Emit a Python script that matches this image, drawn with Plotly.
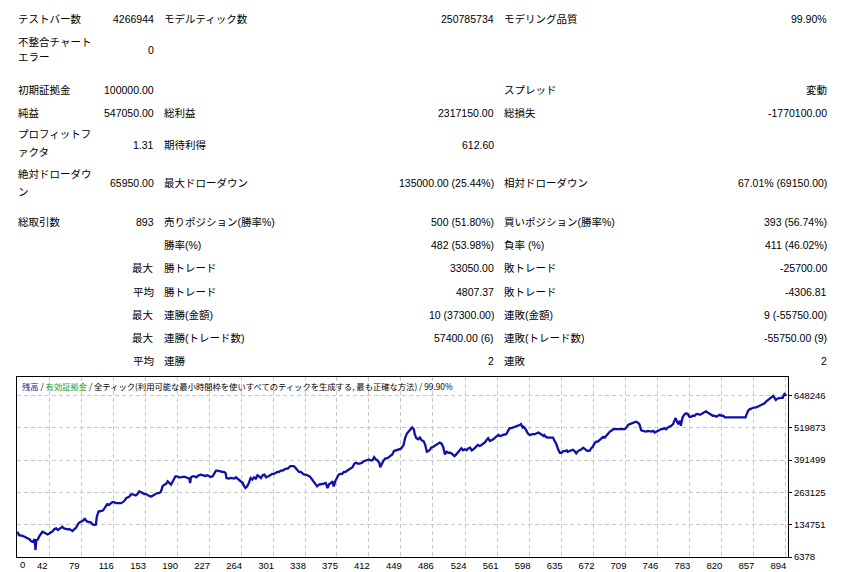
import plotly.graph_objects as go

# ---------------- data ----------------
trade_no = [5, 7, 11, 15, 19, 21, 23, 25, 26, 27, 29, 30, 32, 34, 36, 38, 40, 42, 44, 46,
            48, 50, 52, 54, 56, 57, 59, 61, 63, 65, 67, 69, 71, 73, 75, 77, 79, 81, 82, 83,
            84, 86, 88, 90, 92, 94, 96, 97, 99, 101, 104, 106, 108, 109, 111, 113, 115, 117, 119, 121,
            123, 125, 127, 129, 131, 133, 135, 136, 138, 140, 142, 144, 146, 148, 150, 152, 154, 156, 158, 160,
            162, 163, 165, 167, 169, 171, 172, 173, 175, 177, 179, 181, 183, 185, 187, 188, 190, 192, 194, 196,
            198, 200, 202, 204, 205, 206, 208, 210, 212, 214, 215, 217, 219, 221, 223, 225, 227, 229, 231, 233,
            235, 237, 239, 241, 242, 244, 246, 247, 250, 252, 254, 256, 258, 260, 262, 264, 266, 267, 269, 271,
            273, 275, 277, 279, 281, 283, 285, 287, 289, 291, 293, 294, 296, 298, 300, 302, 304, 306, 308, 310,
            312, 314, 316, 318, 320, 321, 323, 325, 327, 329, 331, 333, 335, 337, 339, 341, 343, 345, 347, 348,
            350, 352, 354, 356, 358, 360, 362, 364, 366, 368, 370, 371, 372, 373, 375, 377, 379, 381, 383, 385,
            387, 389, 391, 393, 395, 397, 399, 400, 402, 404, 406, 408, 410, 412, 414, 416, 418, 420, 422, 424,
            425, 427, 429, 431, 433, 435, 437, 439, 441, 443, 445, 447, 449, 452, 454, 456, 457, 459, 461, 462,
            464, 465, 467, 469, 471, 473, 475, 477, 479, 481, 483, 484, 486, 488, 490, 492, 494, 496, 498, 500,
            502, 504, 506, 508, 510, 511, 513, 515, 517, 519, 521, 523, 525, 527, 529, 531, 533, 535, 536, 538,
            540, 542, 544, 546, 548, 550, 552, 554, 556, 558, 560, 562, 563, 565, 567, 569, 571, 573, 575, 577,
            579, 581, 583, 585, 587, 588, 590, 591, 592, 594, 596, 598, 600, 602, 604, 606, 608, 610, 612, 614,
            615, 617, 619, 621, 623, 625, 627, 629, 631, 633, 635, 637, 639, 641, 642, 644, 646, 648, 650, 652,
            654, 656, 658, 660, 662, 664, 666, 668, 669, 671, 673, 675, 677, 679, 681, 683, 685, 687, 689, 691,
            693, 695, 698, 702, 706, 708, 710, 712, 714, 716, 718, 720, 721, 723, 724, 725, 726, 727, 729, 731,
            733, 735, 737, 739, 741, 743, 745, 747, 748, 750, 752, 754, 756, 758, 760, 762, 764, 766, 767, 769,
            770, 772, 773, 774, 775, 777, 779, 781, 783, 785, 787, 789, 791, 793, 795, 797, 799, 800, 802, 804,
            806, 808, 810, 812, 814, 816, 818, 820, 822, 824, 826, 829, 833, 837, 841, 845, 848, 849, 851, 853,
            854, 856, 858, 860, 862, 864, 866, 868, 870, 872, 874, 876, 878, 880, 881, 883, 884, 885, 887, 889,
            891, 892, 893, 894, 895]

balance = [106700, 93300, 90600, 82600, 77300, 69200, 66600, 77300, 34100, 73300, 77300, 86600, 96000, 106700, 104000, 100000, 96000, 100000, 104000, 109300,
           117400, 120000, 113400, 117400, 122700, 126700, 120000, 117400, 116000, 117400, 113400, 109300, 117400, 122700, 136100, 144100, 146800, 149500, 153500, 160200,
           153500, 146800, 144100, 144100, 136100, 133400, 136100, 166800, 186900, 189600, 190900, 200300, 211000, 216300, 213600, 220300, 224400, 224400, 220300, 220300,
           219000, 220300, 224400, 229700, 240400, 243100, 247100, 253800, 256400, 253800, 251100, 256400, 267100, 264500, 260400, 256400, 256400, 251100, 248400, 247100,
           251100, 251100, 253800, 260400, 260400, 264500, 273800, 287200, 293900, 296600, 307300, 300600, 293900, 307300, 320600, 327300, 327300, 323300, 323300, 324600,
           326000, 323300, 320600, 318000, 300600, 323300, 327300, 327300, 323300, 331300, 331300, 334000, 331300, 331300, 328700, 331300, 327300, 324600, 327300, 340700,
           350100, 350100, 347400, 344700, 344700, 344700, 340700, 320600, 318000, 320600, 318000, 318000, 323300, 318000, 314000, 307300, 300600, 291200, 280500, 287200,
           300600, 320600, 314000, 323300, 318000, 331300, 327300, 320600, 331300, 334000, 323300, 326000, 327300, 331300, 336700, 336700, 340700, 344700, 344700, 350100,
           350100, 354100, 358100, 358100, 363400, 367400, 367400, 367400, 360700, 350100, 344700, 344700, 340700, 334000, 334000, 331300, 327300, 320600, 309900, 304600,
           296600, 287200, 293900, 293900, 296600, 297900, 300600, 280500, 296600, 300600, 307300, 287200, 293900, 307300, 323300, 334000, 336700, 336700, 344700, 344700,
           350100, 354100, 358100, 363400, 376800, 380800, 378100, 376800, 378100, 380800, 387500, 390200, 390200, 394200, 390200, 390200, 403500, 394200, 390200, 380800,
           363400, 380800, 390200, 398200, 398200, 403500, 407500, 414200, 427600, 430300, 434300, 434300, 437000, 450400, 481100, 497200, 501200, 507900, 518600, 521200,
           514500, 494500, 478400, 474400, 481100, 470400, 467700, 454400, 424900, 427600, 434300, 441000, 443700, 447700, 451700, 457000, 461000, 457000, 443700, 414200,
           424900, 420900, 420900, 416900, 411600, 407500, 414200, 420900, 427600, 438300, 430300, 434300, 430300, 438300, 441000, 430300, 434300, 441000, 447700, 451700,
           447700, 450400, 457000, 461000, 470400, 478400, 467700, 470400, 474400, 481100, 487800, 491800, 487800, 487800, 491800, 491800, 494500, 507900, 518600, 518600,
           521200, 521200, 523900, 527900, 531900, 534600, 521200, 523900, 521200, 510500, 497200, 491800, 494500, 494500, 494500, 497200, 501200, 497200, 491800, 487800,
           491800, 483800, 481100, 481100, 478400, 481100, 467700, 454400, 434300, 420900, 420900, 427600, 427600, 430300, 424900, 427600, 430300, 433000, 427600, 418300,
           427600, 430300, 434300, 441000, 434300, 430300, 427600, 430300, 438300, 443700, 457000, 465100, 465100, 470400, 478400, 483800, 481100, 491800, 497200, 505200,
           510500, 514500, 514500, 514500, 513200, 514500, 521200, 531900, 534600, 537300, 537300, 541300, 544000, 541300, 537300, 534600, 523900, 510500, 507900, 505200,
           505200, 507900, 505200, 505200, 507900, 501200, 505200, 510500, 510500, 514500, 514500, 518600, 514500, 521200, 523900, 527900, 534600, 550600, 558700, 541300,
           537300, 548000, 527900, 545300, 561300, 572000, 577400, 574700, 564000, 564000, 568000, 568000, 574700, 574700, 572000, 574700, 577400, 581400, 585400, 581400,
           577400, 572000, 568000, 568000, 564000, 568000, 572000, 568000, 568000, 561300, 561300, 558700, 558700, 558700, 561300, 558700, 561300, 572000, 588100, 594800,
           594800, 598800, 598800, 601500, 604100, 606800, 610800, 614800, 617500, 625500, 630900, 638900, 641600, 646900, 641600, 630900, 634900, 634900, 637600, 638900,
           638900, 648300, 654900, 652300, 647050]

x_tick_vals = [42, 79, 116, 153, 190, 227, 264, 301, 338, 375, 412, 449, 486, 524, 561,
               598, 635, 672, 709, 746, 783, 820, 857, 894]
y_tick_vals = [6378, 134751, 263125, 391499, 519873, 648246]

# report table rows: (y position, label A, value A, label B, value B, label C, value C)
report_rows = [
    (18.5, "テストバー数", "4266944", "モデルティック数", "250785734", "モデリング品質", "99.90%"),
    (89.5, "初期証拠金", "100000.00", "", "", "スプレッド", "変動"),
    (112.7, "純益", "547050.00", "総利益", "2317150.00", "総損失", "-1770100.00"),
    (144.5, "", "1.31", "期待利得", "612.60", "", ""),
    (183.3, "", "65950.00", "最大ドローダウン", "135000.00 (25.44%)", "相対ドローダウン", "67.01% (69150.00)"),
    (221.8, "総取引数", "893", "売りポジション(勝率%)", "500 (51.80%)", "買いポジション(勝率%)", "393 (56.74%)"),
    (245.0, "", "", "勝率(%)", "482 (53.98%)", "負率 (%)", "411 (46.02%)"),
    (268.3, "", "最大", "勝トレード", "33050.00", "敗トレード", "-25700.00"),
    (291.5, "", "平均", "勝トレード", "4807.37", "敗トレード", "-4306.81"),
    (314.8, "", "最大", "連勝(金額)", "10 (37300.00)", "連敗(金額)", "9 (-55750.00)"),
    (338.0, "", "最大", "連勝(トレード数)", "57400.00 (6)", "連敗(トレード数)", "-55750.00 (9)"),
    (361.0, "", "平均", "連勝", "2", "連敗", "2"),
]
# wrapped labels of column A: (y position, text)
wrapped_labels = [
    (41.7, "不整合チャート"), (57.0, "エラー"),
    (133.5, "プロフィットフ"), (151.8, "ァクタ"),
    (173.5, "絶対ドローダウ"), (191.8, "ン"),
]
wrapped_values = [(50.5, "0")]

header_parts = [("残高", "#1a1aa0"), (" / ", "#000000"), ("有効証拠金", "#1fa01f"),
                (" / 全ティック(利用可能な最小時間枠を使いすべてのティックを生成する, 最も正確な方法) / 99.90%", "#000000")]

# ---------------- layout geometry (page pixels) ----------------
W, H = 849, 572
OFF = 8                     # page body margin
PL, PR, PT, PB = 17, 788, 377, 557
FONT = "Liberation Sans, Noto Sans CJK JP, sans-serif"
FIG_W, FIG_H = W - OFF, H - OFF


def fx(x):
    return (x - PL) / (PR - PL)


def fy(y):
    return (PB - y) / (PB - PT)


annotations = []


def add_text(x, y, s, anchor="left", size=10.5, color="#000000"):
    if not s:
        return
    annotations.append(dict(
        x=fx(x), y=fy(y), xref="paper", yref="paper", text=s, showarrow=False,
        xanchor=anchor, yanchor="middle", font=dict(family=FONT, size=size, color=color),
        borderpad=0, align=anchor))


COL_A_L, COL_A_R, COL_B_L, COL_B_R, COL_C_L, COL_C_R = 17, 155, 163, 495, 503, 828
for (y, la, va, lb, vb, lc, vc) in report_rows:
    add_text(COL_A_L, y, la, "left")
    add_text(COL_A_R, y, va, "right")
    add_text(COL_B_L, y, lb, "left")
    add_text(COL_B_R, y, vb, "right")
    add_text(COL_C_L, y, lc, "left")
    add_text(COL_C_R, y, vc, "right")
for (y, s) in wrapped_labels:
    add_text(COL_A_L, y, s, "left")
for (y, s) in wrapped_values:
    add_text(COL_A_R, y, s, "right")

header = "".join(f"<span style='color:{c}'>{t}</span>" for t, c in header_parts)
annotations.append(dict(x=fx(20), y=fy(385.5), xref="paper", yref="paper", text=header,
                        showarrow=False, xanchor="left", yanchor="middle",
                        font=dict(family="Noto Sans CJK JP, sans-serif", size=8.3, color="#000000")))
# left-edge x label "0"
annotations.append(dict(x=fx(18), y=fy(564.5), xref="paper", yref="paper", text="0",
                        showarrow=False, xanchor="left", yanchor="middle",
                        font=dict(family=FONT, size=9.5, color="#000000")))

fig = go.Figure()
fig.add_trace(go.Scatter(x=trade_no, y=balance, mode="lines",
                         line=dict(color="#1010a6", width=2.3), hoverinfo="skip"))

fig.update_layout(
    width=FIG_W, height=FIG_H, autosize=False,
    margin=dict(l=PL - OFF, r=W - PR, t=PT - OFF, b=H - PB, pad=0),
    paper_bgcolor="white", plot_bgcolor="white",
    showlegend=False, annotations=annotations,
    font=dict(family=FONT, size=10, color="#000000"),
)
fig.update_xaxes(range=[4.6, 897.1], tickvals=x_tick_vals, ticktext=[str(v) for v in x_tick_vals],
                 showgrid=True, gridcolor="#c8c8c8", gridwidth=1, griddash="4px,3px",
                 showline=True, mirror=True, linecolor="#000000", linewidth=1,
                 ticks="", ticklabelshift=-7, tickfont=dict(family=FONT, size=9.5),
                 zeroline=False, automargin=False, fixedrange=True)
fig.update_yaxes(range=[6378, 722000], tickvals=y_tick_vals, ticktext=[str(v) for v in y_tick_vals],
                 side="right", showgrid=True, gridcolor="#c8c8c8", gridwidth=1, griddash="4px,3px",
                 showline=True, mirror=True, linecolor="#000000", linewidth=1,
                 ticks="outside", ticklen=3, tickcolor="#000000", tickfont=dict(family=FONT, size=9.5),
                 zeroline=False, automargin=False, fixedrange=True)

fig.write_html("out.html", config={"displayModeBar": False})
